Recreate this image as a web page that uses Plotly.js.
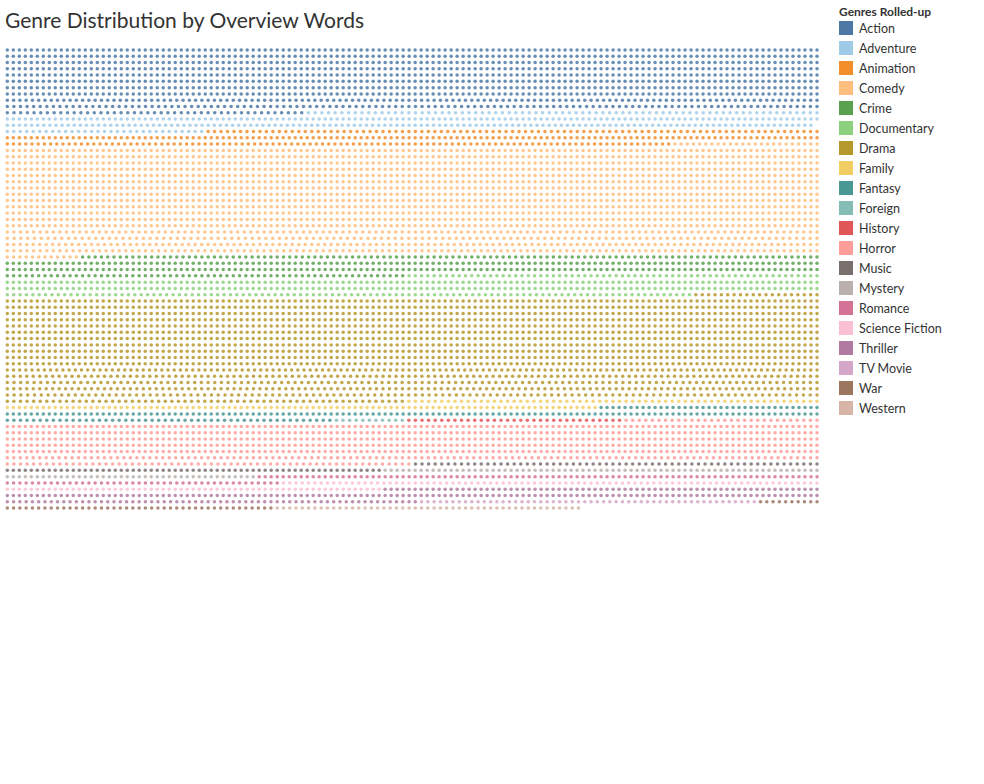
<!DOCTYPE html>
<html>
<head>
<meta charset="utf-8">
<script src="https://cdn.plot.ly/plotly-3.0.1.min.js"></script>
<style>
  html, body { margin: 0; padding: 0; background: #ffffff; }
  #chart { width: 984px; height: 784px; }
</style>
</head>
<body>
<div id="chart"></div>
<script>
// ---- Data ----
const genres = ["Action", "Adventure", "Animation", "Comedy", "Crime", "Documentary", "Drama",
  "Family", "Fantasy", "Foreign", "History", "Horror", "Music", "Mystery", "Romance",
  "Science Fiction", "Thriller", "TV Movie", "War", "Western"];

// number of dots (overview words) per genre, in reading order
const genreCounts = [1387, 378, 339, 2298, 454, 446, 2203, 162, 223, 11, 33, 898, 125, 115,
  138, 149, 275, 54, 53, 49];

// number of dots laid out on each row of the matrix
const rowCounts = [
  136, 136, 136, 136, 136, 136, 136, 136, 130, 124, 122,
  136, 134, 126,
  136, 132,
  136, 136, 136, 136, 136, 136, 136, 136, 136, 136, 136, 136, 136,
  124, 120, 126, 124, 130,
  136, 136, 130,
  136, 136, 128,
  136, 136, 136, 136, 136, 136, 136, 136, 136, 136, 136,
  132, 126, 122, 126, 120, 124,
  136, 136, 124,
  136, 136, 136, 136, 136, 126, 124,
  136, 136, 130, 136, 136, 130, 92
];

const genreColors = ["#4e79a7", "#a0cbe8", "#f28e2b", "#ffbe7d", "#59a14f", "#8cd17d", "#b6992d",
  "#f1ce63", "#499894", "#86bcb6", "#e15759", "#ff9d9a", "#79706e", "#bab0ac", "#d37295",
  "#fabfd2", "#b07aa1", "#d4a6c8", "#9d7660", "#d7b5a6"];

// ---- Build dot positions ----
const W = 135; // slots across a full row
const xs = genres.map(() => []);
const ys = genres.map(() => []);
let g = 0, left = genreCounts[0];
for (let r = 0; r < rowCounts.length; r++) {
  const n = rowCounts[r];
  const isLast = r === rowCounts.length - 1;
  const step = isLast ? W / (rowCounts[r - 1] - 1) : W / (n - 1);
  for (let i = 0; i < n; i++) {
    while (left === 0 && g < genres.length - 1) { g++; left = genreCounts[g]; }
    xs[g].push(i * step);
    ys[g].push(r);
    left--;
  }
}

const traces = genres.map((name, k) => ({
  type: "scatter",
  mode: "markers",
  name: name,
  x: xs[k],
  y: ys[k],
  cliponaxis: false,
  hoverinfo: "name",
  marker: { color: genreColors[k], size: 3.5, opacity: 0.85, line: { width: 0 } },
  showlegend: false
}));

// ---- Legend (Tableau style) ----
const Wpx = 984, Hpx = 784;
const px = v => v / Wpx;
const py = v => 1 - v / Hpx;
const shapes = [];
const annotations = [{
  text: "<b>Genres Rolled-up</b>", xref: "paper", yref: "paper",
  x: px(837), y: py(11), xanchor: "left", yanchor: "middle", showarrow: false,
  font: { family: "Lato, 'Open Sans', sans-serif", size: 12, color: "#333333" }
}];
genres.forEach((name, k) => {
  const cy = 28 + 20 * k;
  shapes.push({
    type: "rect", xref: "paper", yref: "paper",
    x0: px(839), x1: px(853), y0: py(cy - 7), y1: py(cy + 7),
    fillcolor: genreColors[k], line: { width: 0 }
  });
  annotations.push({
    text: name, xref: "paper", yref: "paper",
    x: px(857), y: py(cy + 0.5), xanchor: "left", yanchor: "middle", showarrow: false,
    font: { family: "Lato, 'Open Sans', sans-serif", size: 12.5, color: "#333333" }
  });
});

const layout = {
  width: Wpx, height: Hpx,
  margin: { l: 0, r: 0, t: 0, b: 0 },
  paper_bgcolor: "#ffffff", plot_bgcolor: "#ffffff",
  title: {
    text: "Genre Distribution by Overview Words",
    x: px(5), xref: "paper", xanchor: "left",
    y: py(21), yref: "paper", yanchor: "middle",
    font: { family: "Lato, 'Open Sans', sans-serif", size: 21, color: "#333333" }
  },
  xaxis: { visible: false, range: [0, W], domain: [px(7.3), px(817)], fixedrange: true },
  yaxis: { visible: false, range: [rowCounts.length - 1, 0], domain: [py(508), py(50)], fixedrange: true },
  showlegend: false,
  shapes: shapes,
  annotations: annotations,
  hovermode: "closest"
};

Plotly.newPlot("chart", traces, layout, { displayModeBar: false, staticPlot: false });
</script>
</body>
</html>
